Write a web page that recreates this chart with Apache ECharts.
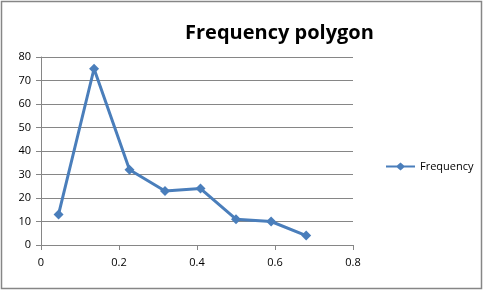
<!DOCTYPE html>
<html>
<head>
<meta charset="utf-8">
<script src="https://cdn.jsdelivr.net/npm/echarts@6/dist/echarts.min.js"></script>
<style>
  html, body { margin: 0; padding: 0; background: #fff; }
  #chart { width: 483px; height: 291px; }
</style>
</head>
<body>
<div id="chart"></div>
<script>
// frequency polygon - class midpoints vs counts
var midpoints = [0.045, 0.136, 0.227, 0.318, 0.409, 0.5, 0.59, 0.68]
var frequency = [13, 75, 32, 23, 24, 11, 10, 4]
var seriesName = 'Frequency'
var titleText = 'Frequency polygon'

var lineColor = '#4a7ebb'
var axisGray = '#868686'
var labelFont = 'Open Sans, Noto Sans, sans-serif'

var chart = echarts.init(document.getElementById('chart'))

chart.setOption({
  animation: false,
  title: {
    text: titleText,
    left: 180,
    top: 18,
    textStyle: {
      fontFamily: labelFont,
      fontWeight: 'bold',
      fontSize: 20,
      color: '#000'
    }
  },
  legend: {
    data: [seriesName],
    left: 381,
    top: 156,
    itemWidth: 29,
    itemHeight: 8,
    icon: 'path://M0,3 H11 L14.5,0 L18,3 H29 V5 H18 L14.5,8 L11,5 H0 Z',
    itemGap: 4,
    textStyle: { fontFamily: labelFont, fontSize: 11, color: '#000' }
  },
  grid: {
    left: 41,
    right: 130,
    top: 57,
    bottom: 46
  },
  graphic: [{
    type: 'rect',
    shape: { x: 1.5, y: 1.5, width: 480, height: 287 },
    style: { fill: 'none', stroke: axisGray, lineWidth: 1.5 },
    silent: true
  }],
  xAxis: {
    type: 'value',
    min: 0,
    max: 0.8,
    interval: 0.2,
    splitLine: { show: false },
    axisLine: { show: true, onZero: false, lineStyle: { color: axisGray } },
    axisTick: { show: true, length: 5, inside: false, lineStyle: { color: axisGray } },
    axisLabel: {
      margin: 12,
      fontFamily: labelFont,
      fontSize: 11,
      color: '#000',
      showMaxLabel: true,
      formatter: function (v) { return v === 0 ? '0' : String(+v.toFixed(1)) }
    }
  },
  yAxis: {
    type: 'value',
    min: 0,
    max: 80,
    interval: 10,
    splitLine: { show: true, lineStyle: { color: axisGray } },
    axisLine: { show: true, lineStyle: { color: axisGray } },
    axisTick: { show: true, length: 5, lineStyle: { color: axisGray } },
    axisLabel: {
      margin: 10,
      fontFamily: labelFont,
      fontSize: 11,
      color: '#000'
    }
  },
  series: [{
    name: seriesName,
    type: 'line',
    data: midpoints.map(function (x, i) { return [x, frequency[i]] }),
    symbol: 'diamond',
    symbolSize: 10,
    itemStyle: { color: lineColor },
    lineStyle: { color: lineColor, width: 3 }
  }]
})
</script>
</body>
</html>
